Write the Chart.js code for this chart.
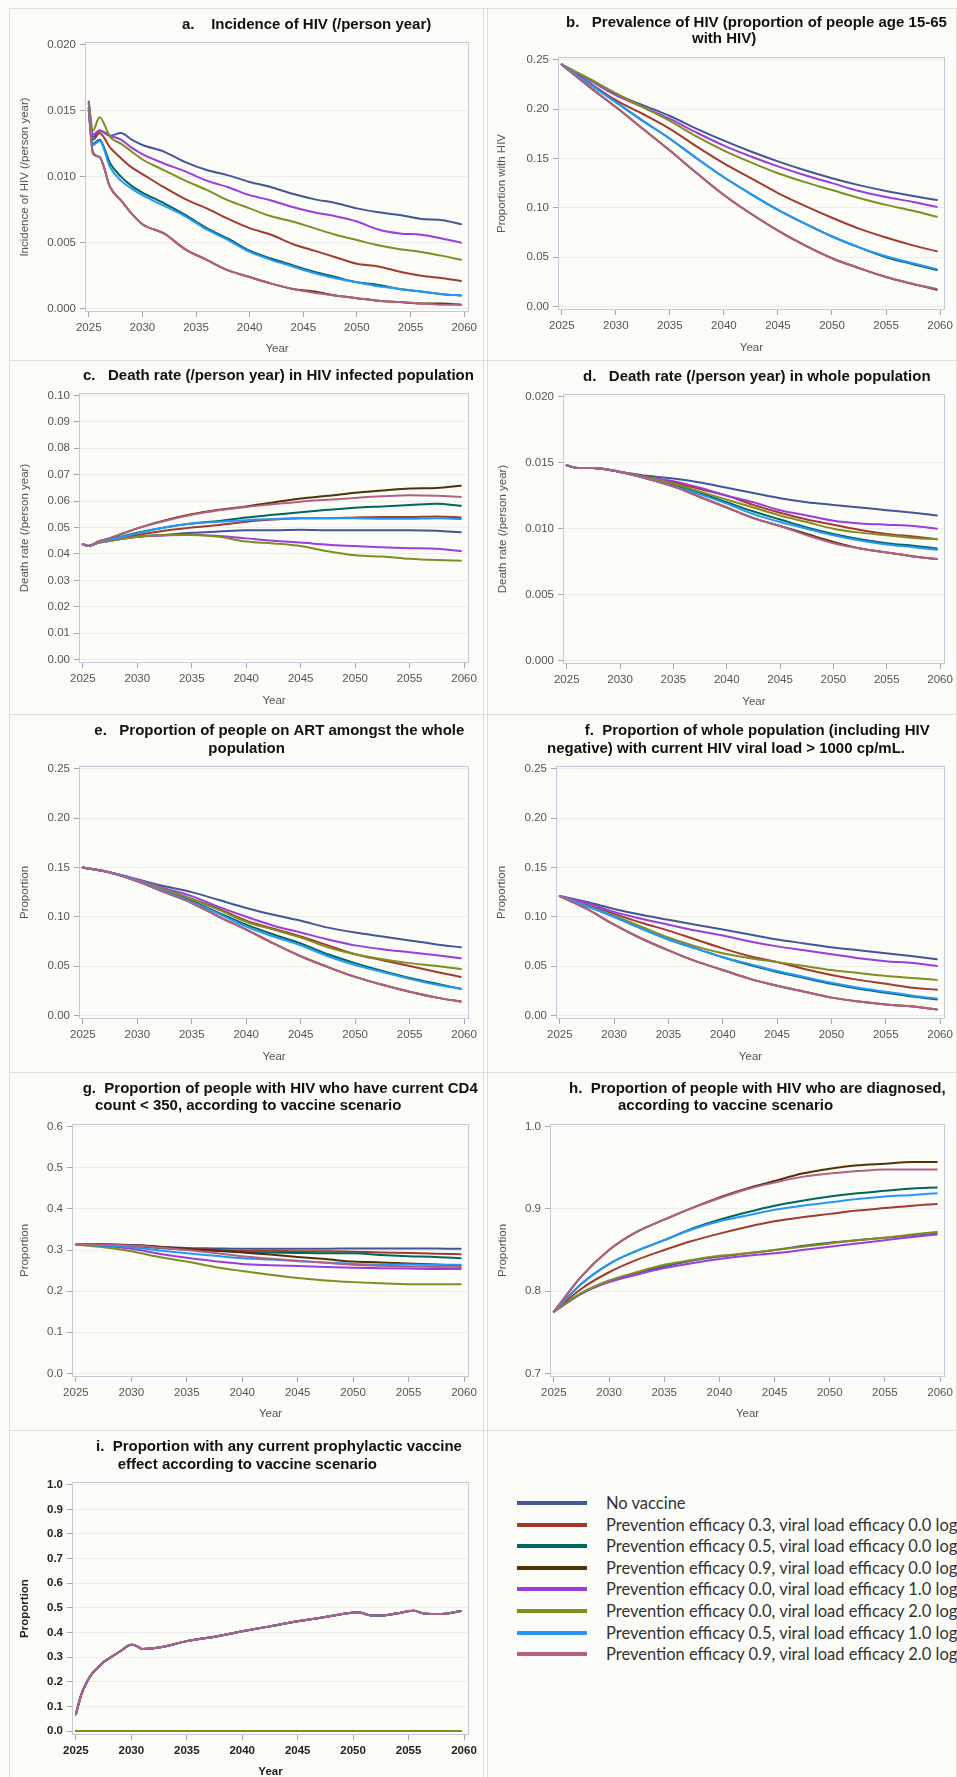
<!DOCTYPE html>
<html><head><meta charset="utf-8">
<script src="https://cdn.jsdelivr.net/npm/chart.js@4.4.1/dist/chart.umd.min.js"></script>
<style>
html,body{margin:0;padding:0;}
body{width:957px;height:1777px;overflow:hidden;position:relative;background:#fbfbf8;}
canvas{position:absolute;}
.rule{position:absolute;background:#dedede;}
.lg-row{position:absolute;left:517px;height:22px;white-space:nowrap;}
.lg-sw{position:absolute;left:0;top:9px;width:70px;height:4px;}
.lg-tx{position:absolute;left:89px;top:0;line-height:22px;font-family:Lato,"Open Sans",sans-serif;font-size:16.5px;color:#333;}
</style>
</head><body>
<script>
// ---------------- DATA ----------------
const SCENARIOS = [
  'No vaccine',
  'Prevention efficacy 0.3, viral load efficacy 0.0 log',
  'Prevention efficacy 0.5, viral load efficacy 0.0 log',
  'Prevention efficacy 0.9, viral load efficacy 0.0 log',
  'Prevention efficacy 0.0, viral load efficacy 1.0 log',
  'Prevention efficacy 0.0, viral load efficacy 2.0 log',
  'Prevention efficacy 0.5, viral load efficacy 1.0 log',
  'Prevention efficacy 0.9, viral load efficacy 2.0 log'
];
const X_TICKS = [2025, 2030, 2035, 2040, 2045, 2050, 2055, 2060];

// a. Incidence of HIV
const YEARS_A = [2025, 2025.4, 2026, 2027, 2028, 2029, 2030, 2032, 2034, 2036, 2038, 2040, 2042, 2044, 2046, 2048, 2050, 2052, 2054, 2056, 2058, 2059.7];
const INCIDENCE = [
  [0.0156, 0.0130, 0.0135, 0.0131, 0.0133, 0.0128, 0.0124, 0.0119, 0.0111, 0.0105, 0.0101, 0.0096, 0.0092, 0.0087, 0.0083, 0.0080, 0.0076, 0.0073, 0.0071, 0.0068, 0.0067, 0.0064],
  [0.0152, 0.0128, 0.0133, 0.0122, 0.0114, 0.0107, 0.0102, 0.0092, 0.0083, 0.0076, 0.0068, 0.0061, 0.0056, 0.0049, 0.0044, 0.0039, 0.0034, 0.0032, 0.0028, 0.0025, 0.0023, 0.0021],
  [0.0152, 0.0125, 0.0128, 0.0110, 0.0100, 0.0093, 0.0088, 0.0080, 0.0071, 0.0061, 0.0053, 0.0044, 0.0038, 0.0033, 0.0028, 0.0024, 0.0020, 0.0018, 0.0015, 0.0013, 0.0011, 0.0010],
  [0.0150, 0.0118, 0.0115, 0.0092, 0.0082, 0.0072, 0.0064, 0.0057, 0.0045, 0.0037, 0.0029, 0.0024, 0.0019, 0.0015, 0.0013, 0.0010, 0.0008, 0.0006, 0.0005, 0.0004, 0.0004, 0.0003],
  [0.0157, 0.0132, 0.0135, 0.0131, 0.0128, 0.0122, 0.0117, 0.0110, 0.0104, 0.0097, 0.0092, 0.0086, 0.0082, 0.0077, 0.0073, 0.0070, 0.0066, 0.0060, 0.0057, 0.0056, 0.0053, 0.0050],
  [0.0155, 0.0135, 0.0145, 0.0130, 0.0125, 0.0119, 0.0113, 0.0105, 0.0097, 0.0090, 0.0082, 0.0076, 0.0070, 0.0066, 0.0061, 0.0056, 0.0052, 0.0048, 0.0045, 0.0043, 0.0040, 0.0037],
  [0.0151, 0.0124, 0.0127, 0.0107, 0.0097, 0.0091, 0.0086, 0.0078, 0.0070, 0.0060, 0.0052, 0.0043, 0.0037, 0.0032, 0.0027, 0.0023, 0.0020, 0.0017, 0.0015, 0.0013, 0.0011, 0.0010],
  [0.0150, 0.0117, 0.0115, 0.0092, 0.0082, 0.0072, 0.0064, 0.0057, 0.0045, 0.0037, 0.0029, 0.0024, 0.0019, 0.0015, 0.0012, 0.0010, 0.0008, 0.0006, 0.0005, 0.0004, 0.0003, 0.0003]
];

// smooth panels share this year grid
const YEARS_S = [2025, 2027.5, 2030, 2032.5, 2035, 2037.5, 2040, 2042.5, 2045, 2047.5, 2050, 2052.5, 2055, 2057.5, 2059.7];

// b. Prevalence of HIV
const PREVALENCE = [
  [0.245, 0.230, 0.215, 0.204, 0.193, 0.180, 0.168, 0.157, 0.147, 0.138, 0.130, 0.123, 0.117, 0.112, 0.108],
  [0.245, 0.227, 0.209, 0.195, 0.180, 0.162, 0.145, 0.130, 0.115, 0.102, 0.090, 0.079, 0.070, 0.062, 0.056],
  [0.245, 0.226, 0.207, 0.188, 0.170, 0.150, 0.131, 0.114, 0.098, 0.084, 0.071, 0.060, 0.050, 0.043, 0.037],
  [0.245, 0.223, 0.202, 0.180, 0.158, 0.135, 0.113, 0.094, 0.077, 0.062, 0.049, 0.039, 0.030, 0.023, 0.017],
  [0.245, 0.230, 0.214, 0.202, 0.190, 0.176, 0.163, 0.152, 0.142, 0.133, 0.125, 0.117, 0.111, 0.106, 0.101],
  [0.245, 0.231, 0.216, 0.202, 0.188, 0.172, 0.158, 0.146, 0.135, 0.126, 0.118, 0.110, 0.103, 0.097, 0.091],
  [0.245, 0.226, 0.207, 0.188, 0.170, 0.150, 0.131, 0.114, 0.098, 0.084, 0.071, 0.060, 0.051, 0.044, 0.038],
  [0.245, 0.223, 0.202, 0.180, 0.158, 0.135, 0.113, 0.094, 0.077, 0.062, 0.049, 0.039, 0.030, 0.023, 0.018]
];

// c. Death rate in HIV infected population
const YEARS_C = [2025, 2025.5, 2026.5, 2027.5, 2030, 2032.5, 2035, 2037.5, 2040, 2042.5, 2045, 2047.5, 2050, 2052.5, 2055, 2057.5, 2059.7];
const DEATH_HIV = [
  [0.0437, 0.0430, 0.0443, 0.0450, 0.0465, 0.0472, 0.0480, 0.0485, 0.0490, 0.0490, 0.0492, 0.0490, 0.0490, 0.0490, 0.0490, 0.0488, 0.0482],
  [0.0437, 0.0430, 0.0445, 0.0452, 0.0472, 0.0488, 0.0500, 0.0510, 0.0522, 0.0530, 0.0535, 0.0535, 0.0538, 0.0540, 0.0540, 0.0542, 0.0538],
  [0.0437, 0.0430, 0.0446, 0.0455, 0.0480, 0.0500, 0.0515, 0.0525, 0.0538, 0.0548, 0.0558, 0.0567, 0.0575, 0.0580, 0.0585, 0.0590, 0.0582],
  [0.0437, 0.0430, 0.0448, 0.0460, 0.0497, 0.0527, 0.0550, 0.0567, 0.0580, 0.0595, 0.0610, 0.0620, 0.0632, 0.0640, 0.0648, 0.0650, 0.0658],
  [0.0437, 0.0430, 0.0443, 0.0450, 0.0465, 0.0470, 0.0473, 0.0468, 0.0459, 0.0450, 0.0443, 0.0435, 0.0430, 0.0425, 0.0422, 0.0420, 0.0411],
  [0.0437, 0.0430, 0.0443, 0.0450, 0.0465, 0.0472, 0.0472, 0.0465, 0.0447, 0.0440, 0.0430, 0.0410, 0.0395, 0.0390, 0.0382, 0.0377, 0.0374],
  [0.0437, 0.0430, 0.0445, 0.0455, 0.0478, 0.0500, 0.0515, 0.0522, 0.0528, 0.0532, 0.0535, 0.0535, 0.0535, 0.0533, 0.0533, 0.0535, 0.0532],
  [0.0437, 0.0430, 0.0448, 0.0460, 0.0497, 0.0525, 0.0548, 0.0565, 0.0578, 0.0588, 0.0598, 0.0605, 0.0612, 0.0618, 0.0622, 0.0620, 0.0616]
];

// d. Death rate in whole population
const YEARS_D = [2025, 2026, 2027.5, 2030, 2032.5, 2035, 2037.5, 2040, 2042.5, 2045, 2047.5, 2050, 2052.5, 2055, 2057.5, 2059.7];
const DEATH_ALL = [
  [0.0148, 0.0146, 0.0146, 0.0143, 0.0140, 0.0138, 0.0135, 0.0131, 0.0127, 0.0123, 0.0120, 0.0118, 0.0116, 0.0114, 0.0112, 0.0110],
  [0.0148, 0.0146, 0.0146, 0.0143, 0.0139, 0.0135, 0.0130, 0.0125, 0.0118, 0.0112, 0.0107, 0.0103, 0.0099, 0.0096, 0.0094, 0.0092],
  [0.0148, 0.0146, 0.0146, 0.0143, 0.0139, 0.0133, 0.0127, 0.0120, 0.0113, 0.0107, 0.0101, 0.0096, 0.0092, 0.0089, 0.0087, 0.0085],
  [0.0148, 0.0146, 0.0146, 0.0143, 0.0138, 0.0132, 0.0124, 0.0116, 0.0108, 0.0102, 0.0096, 0.0090, 0.0085, 0.0082, 0.0079, 0.0077],
  [0.0148, 0.0146, 0.0146, 0.0143, 0.0139, 0.0136, 0.0131, 0.0125, 0.0120, 0.0114, 0.0110, 0.0106, 0.0104, 0.0103, 0.0102, 0.0100],
  [0.0148, 0.0146, 0.0146, 0.0143, 0.0139, 0.0134, 0.0128, 0.0122, 0.0116, 0.0110, 0.0105, 0.0100, 0.0097, 0.0095, 0.0093, 0.0092],
  [0.0148, 0.0146, 0.0146, 0.0143, 0.0138, 0.0132, 0.0126, 0.0119, 0.0111, 0.0105, 0.0100, 0.0095, 0.0091, 0.0088, 0.0086, 0.0084],
  [0.0148, 0.0146, 0.0146, 0.0143, 0.0138, 0.0132, 0.0124, 0.0116, 0.0108, 0.0102, 0.0095, 0.0089, 0.0085, 0.0082, 0.0079, 0.0077]
];

// e. Proportion on ART amongst whole population
const ON_ART = [
  [0.150, 0.145, 0.138, 0.131, 0.125, 0.117, 0.109, 0.102, 0.096, 0.089, 0.084, 0.080, 0.076, 0.072, 0.069],
  [0.150, 0.145, 0.137, 0.127, 0.118, 0.108, 0.096, 0.088, 0.080, 0.071, 0.062, 0.056, 0.050, 0.044, 0.039],
  [0.150, 0.145, 0.137, 0.126, 0.116, 0.104, 0.092, 0.082, 0.073, 0.062, 0.053, 0.045, 0.038, 0.032, 0.027],
  [0.150, 0.145, 0.136, 0.125, 0.114, 0.100, 0.087, 0.073, 0.060, 0.049, 0.039, 0.031, 0.024, 0.018, 0.014],
  [0.150, 0.145, 0.138, 0.129, 0.121, 0.110, 0.100, 0.091, 0.084, 0.077, 0.071, 0.067, 0.064, 0.061, 0.058],
  [0.150, 0.145, 0.137, 0.128, 0.118, 0.107, 0.095, 0.087, 0.079, 0.069, 0.062, 0.057, 0.053, 0.050, 0.047],
  [0.150, 0.145, 0.137, 0.126, 0.115, 0.103, 0.090, 0.080, 0.071, 0.060, 0.051, 0.044, 0.037, 0.031, 0.027],
  [0.150, 0.145, 0.136, 0.125, 0.114, 0.100, 0.087, 0.073, 0.060, 0.049, 0.039, 0.031, 0.024, 0.018, 0.014]
];

// f. Proportion with viral load > 1000
const VL_1000 = [
  [0.121, 0.115, 0.108, 0.102, 0.097, 0.092, 0.087, 0.082, 0.077, 0.073, 0.069, 0.066, 0.063, 0.060, 0.057],
  [0.121, 0.112, 0.103, 0.094, 0.086, 0.077, 0.068, 0.060, 0.054, 0.047, 0.041, 0.036, 0.032, 0.028, 0.026],
  [0.121, 0.111, 0.100, 0.088, 0.077, 0.068, 0.059, 0.051, 0.044, 0.038, 0.032, 0.027, 0.023, 0.019, 0.016],
  [0.121, 0.108, 0.092, 0.078, 0.066, 0.055, 0.046, 0.037, 0.030, 0.024, 0.018, 0.014, 0.011, 0.009, 0.006],
  [0.121, 0.114, 0.105, 0.098, 0.092, 0.086, 0.081, 0.075, 0.070, 0.066, 0.062, 0.058, 0.055, 0.053, 0.050],
  [0.121, 0.111, 0.101, 0.090, 0.079, 0.070, 0.063, 0.058, 0.054, 0.050, 0.046, 0.043, 0.040, 0.038, 0.036],
  [0.121, 0.111, 0.100, 0.088, 0.077, 0.068, 0.059, 0.052, 0.045, 0.039, 0.033, 0.028, 0.024, 0.020, 0.017],
  [0.121, 0.108, 0.092, 0.078, 0.066, 0.055, 0.046, 0.037, 0.030, 0.024, 0.018, 0.014, 0.011, 0.009, 0.006]
];

// g. Proportion of PLHIV with CD4 < 350
const CD4_350 = [
  [0.313, 0.313, 0.312, 0.308, 0.305, 0.304, 0.303, 0.303, 0.303, 0.303, 0.304, 0.304, 0.304, 0.304, 0.303],
  [0.313, 0.313, 0.311, 0.307, 0.303, 0.301, 0.298, 0.298, 0.297, 0.297, 0.296, 0.294, 0.293, 0.291, 0.290],
  [0.313, 0.313, 0.310, 0.305, 0.301, 0.298, 0.295, 0.294, 0.293, 0.292, 0.292, 0.288, 0.285, 0.283, 0.280],
  [0.313, 0.314, 0.312, 0.308, 0.303, 0.299, 0.294, 0.289, 0.283, 0.278, 0.272, 0.270, 0.267, 0.265, 0.262],
  [0.313, 0.310, 0.303, 0.291, 0.281, 0.273, 0.266, 0.263, 0.261, 0.259, 0.257, 0.256, 0.255, 0.254, 0.254],
  [0.313, 0.307, 0.297, 0.283, 0.272, 0.259, 0.249, 0.240, 0.232, 0.226, 0.222, 0.219, 0.217, 0.217, 0.217],
  [0.313, 0.311, 0.307, 0.299, 0.292, 0.286, 0.280, 0.277, 0.273, 0.270, 0.266, 0.265, 0.265, 0.264, 0.264],
  [0.313, 0.313, 0.311, 0.306, 0.300, 0.293, 0.285, 0.279, 0.274, 0.269, 0.264, 0.262, 0.260, 0.259, 0.258]
];

// h. Proportion of PLHIV diagnosed
const DIAGNOSED = [
  [0.775, 0.797, 0.812, 0.822, 0.830, 0.837, 0.842, 0.846, 0.850, 0.855, 0.859, 0.862, 0.865, 0.868, 0.871],
  [0.775, 0.803, 0.823, 0.838, 0.850, 0.861, 0.870, 0.878, 0.885, 0.890, 0.894, 0.898, 0.901, 0.904, 0.906],
  [0.775, 0.809, 0.833, 0.849, 0.862, 0.876, 0.887, 0.896, 0.904, 0.910, 0.915, 0.919, 0.922, 0.925, 0.926],
  [0.775, 0.818, 0.850, 0.872, 0.887, 0.901, 0.914, 0.925, 0.934, 0.943, 0.949, 0.953, 0.955, 0.957, 0.957],
  [0.775, 0.797, 0.811, 0.820, 0.828, 0.834, 0.839, 0.843, 0.846, 0.850, 0.854, 0.858, 0.862, 0.866, 0.869],
  [0.775, 0.798, 0.813, 0.823, 0.832, 0.838, 0.843, 0.846, 0.850, 0.854, 0.858, 0.862, 0.865, 0.869, 0.872],
  [0.775, 0.809, 0.833, 0.849, 0.862, 0.875, 0.885, 0.892, 0.899, 0.904, 0.908, 0.912, 0.915, 0.917, 0.919],
  [0.775, 0.818, 0.850, 0.872, 0.887, 0.901, 0.913, 0.924, 0.932, 0.939, 0.943, 0.946, 0.948, 0.948, 0.948]
];

// i. Proportion with any current prophylactic vaccine effect
const YEARS_I = [2025, 2025.5, 2026, 2026.5, 2027, 2027.5, 2028, 2029, 2030, 2030.5, 2031, 2032, 2033, 2035, 2037.5, 2040, 2042.5, 2045, 2047.5, 2050, 2050.5, 2051.5, 2052.5, 2054, 2055.5, 2056.5, 2058, 2059.7];
const VAX_EFFECT = [0.068, 0.150, 0.200, 0.235, 0.258, 0.280, 0.295, 0.324, 0.350, 0.345, 0.333, 0.336, 0.343, 0.365, 0.383, 0.405, 0.425, 0.446, 0.463, 0.481, 0.482, 0.470, 0.469, 0.478, 0.488, 0.476, 0.475, 0.487];
const NO_EFFECT  = [0, 0, 0, 0, 0, 0, 0, 0, 0, 0, 0, 0, 0, 0, 0, 0, 0, 0, 0, 0, 0, 0, 0, 0, 0, 0, 0, 0];
const PROPHYLACTIC = [NO_EFFECT, VAX_EFFECT, VAX_EFFECT, VAX_EFFECT, NO_EFFECT, NO_EFFECT, VAX_EFFECT, VAX_EFFECT];

// ---------------- STYLE ----------------
const COLORS = ['#445694', '#A23A2E', '#01665E', '#543005', '#9D3CDB', '#7F8E1F', '#2597FA', '#B26084'];
const FONT = '"Liberation Sans", Arial, sans-serif';
const XMIN = 2024.65, XMAX = 2060.45;

const PANELS = [
  {cell:[9,8,485,360], frame:[85,42,469,312], x:YEARS_A, s:INCIDENCE, yl:'Incidence of HIV (/person year)', yt:[0,0.005,0.01,0.015,0.02], dec:3, ymin:-0.00025, ymax:0.0202, ytp:9.1, xtp:3.8,
   title:[['a.    Incidence of HIV (/person year)',182,25]]},
  {cell:[487,8,957,360], frame:[558,57,947,310], x:YEARS_S, s:PREVALENCE, yl:'Proportion with HIV', yt:[0,0.05,0.1,0.15,0.2,0.25], dec:2, ymin:-0.0034, ymax:0.2527, ytp:8.1, xtp:5.4,
   title:[['b.   Prevalence of HIV (proportion of people age 15-65',566,22.7],['with HIV)',692,39.3]]},
  {cell:[9,360,485,714], frame:[79,393,469,663], x:YEARS_C, s:DEATH_HIV, yl:'Death rate (/person year)', yt:[0,0.01,0.02,0.03,0.04,0.05,0.06,0.07,0.08,0.09,0.1], dec:2, ymin:-0.00125, ymax:0.1009, ytp:9.1, xtp:6.4,
   title:[['c.   Death rate (/person year) in HIV infected population',83,375.7]]},
  {cell:[487,360,957,714], frame:[563,394,947,664], x:YEARS_D, s:DEATH_ALL, yl:'Death rate (/person year)', yt:[0,0.005,0.01,0.015,0.02], dec:3, ymin:-0.00025, ymax:0.0202, ytp:9.1, xtp:5.4,
   title:[['d.   Death rate (/person year) in whole population',583,376.7]]},
  {cell:[9,714,485,1072], frame:[79,766,469,1019], x:YEARS_S, s:ON_ART, yl:'Proportion', yt:[0,0.05,0.1,0.15,0.2,0.25], dec:2, ymin:-0.0037, ymax:0.253, ytp:9.1, xtp:8.4,
   title:[['e.   Proportion of people on ART amongst the whole',94.3,731],['population',208.3,748.7]]},
  {cell:[487,714,957,1072], frame:[556,766,947,1019], x:YEARS_S, s:VL_1000, yl:'Proportion', yt:[0,0.05,0.1,0.15,0.2,0.25], dec:2, ymin:-0.0037, ymax:0.253, ytp:8.1, xtp:8.4,
   title:[['f.  Proportion of whole population (including HIV',584.7,731],['negative) with current HIV viral load > 1000 cp/mL.',547,748.7]]},
  {cell:[9,1072,485,1430], frame:[72,1124,469,1377], x:YEARS_S, s:CD4_350, yl:'Proportion', yt:[0,0.1,0.2,0.3,0.4,0.5,0.6], dec:1, ymin:-0.0087, ymax:0.6065, ytp:9.1, xtp:9.1,
   title:[['g.  Proportion of people with HIV who have current CD4',82.7,1089.3],['count < 350, according to vaccine scenario',95,1106]]},
  {cell:[487,1072,957,1430], frame:[550,1124,947,1377], x:YEARS_S, s:DIAGNOSED, yl:'Proportion', yt:[0.7,0.8,0.9,1.0], dec:1, ymin:0.6956, ymax:1.0033, ytp:9.1, xtp:8.8,
   title:[['h.  Proportion of people with HIV who are diagnosed,',569,1089.3],['according to vaccine scenario',618,1106]]},
  {cell:[9,1430,485,1790], frame:[72,1482,469,1735], x:YEARS_I, s:PROPHYLACTIC, yl:'Proportion', yt:[0,0.1,0.2,0.3,0.4,0.5,0.6,0.7,0.8,0.9,1.0], dec:1, ymin:-0.016, ymax:1.011, ytp:9.1, xtp:11.1, bold:true,
   title:[['i.  Proportion with any current prophylactic vaccine',96,1447],['effect according to vaccine scenario',117.7,1464.7]]}
];

// ---------------- RULES (panel dividers) ----------------
function rule(l,t,w,h){const d=document.createElement('div');d.className='rule';d.style.left=l+'px';d.style.top=t+'px';d.style.width=w+'px';d.style.height=h+'px';document.body.appendChild(d);}
rule(9,8,948,1); rule(9,360,948,1); rule(9,714,948,1); rule(9,1072,948,1); rule(9,1430,948,1);
rule(9,8,1,1769); rule(483,8,1,1769); rule(487,8,1,1769); rule(956,8,1,1769);

// ---------------- PLUGINS ----------------
const framePlugin = {
  id:'frame',
  afterDatasetsDraw(chart){
    const {ctx, chartArea:a} = chart;
    ctx.save(); ctx.strokeStyle = '#c4c9d6'; ctx.lineWidth = 1;
    ctx.strokeRect(Math.round(a.left)+0.5, Math.round(a.top)+0.5, Math.round(a.right-a.left)-1, Math.round(a.bottom-a.top)-1);
    ctx.restore();
  }
};
const titlePlugin = {
  id:'panelTitle',
  afterDraw(chart, args, opts){
    const ctx = chart.ctx;
    ctx.save();
    ctx.font = 'bold 15px ' + FONT; ctx.fillStyle = '#111'; ctx.textAlign = 'left'; ctx.textBaseline = 'middle';
    (opts.lines||[]).forEach(l => ctx.fillText(l[0], l[1]-opts.ox, l[2]-opts.oy));
    ctx.restore();
  }
};

// ---------------- CHARTS ----------------
PANELS.forEach(p => {
  const [cl,ct,cr,cb] = p.cell, [fl,ft,fr,fb] = p.frame;
  const cv = document.createElement('canvas');
  cv.width = cr-cl; cv.height = cb-ct;
  cv.style.left = cl+'px'; cv.style.top = ct+'px';
  cv.style.width = (cr-cl)+'px'; cv.style.height = (cb-ct)+'px';
  document.body.appendChild(cv);
  const tickFont = {family:FONT, size:11.5, weight: p.bold ? 'bold' : 'normal'};
  const tickColor = p.bold ? '#222' : '#555';
  new Chart(cv, {
    type:'line',
    data:{ datasets: SCENARIOS.map((name,i)=>({
      label:name,
      data: p.x.map((x,k)=>({x:x, y:p.s[i][k]})),
      borderColor: COLORS[i], backgroundColor: COLORS[i],
      borderWidth: 2, pointRadius: 0, fill:false,
      cubicInterpolationMode:'monotone', borderJoinStyle:'round', borderCapStyle:'round',
      order: SCENARIOS.length-1-i
    }))},
    options:{
      responsive:false, animation:false, devicePixelRatio:1,
      layout:{padding:{left:0, top:ft-ct, right:cr-fr, bottom:0}},
      plugins:{ legend:{display:false}, tooltip:{enabled:false}, title:{display:false},
        panelTitle:{lines:p.title, ox:cl, oy:ct} },
      scales:{
        x:{ type:'linear', min:XMIN, max:XMAX,
          afterBuildTicks: s => { s.ticks = X_TICKS.map(v=>({value:v})); },
          afterFit: s => { s.height = cb-fb; },
          ticks:{autoSkip:false, maxRotation:0, minRotation:0, padding:4, color:tickColor, font:tickFont, callback: v => String(v)},
          grid:{display:true, drawOnChartArea:false, drawTicks:true, tickLength:5, tickColor:'#a3a8b3'},
          border:{display:false},
          title:{display:true, text:'Year', color:tickColor, font:{family:FONT, size:11.5, weight: p.bold?'bold':'normal'}, padding:{top:0, bottom:p.xtp}}
        },
        y:{ type:'linear', min:p.ymin, max:p.ymax,
          afterBuildTicks: s => { s.ticks = p.yt.map(v=>({value:v})); },
          afterFit: s => { s.width = fl-cl; },
          ticks:{padding:4, color:tickColor, font:tickFont, callback: v => Number(v).toFixed(p.dec)},
          grid:{display:true, color:'#ececec', lineWidth:1, drawTicks:true, tickLength:5, tickColor:'#a3a8b3'},
          border:{display:false},
          title:{display:true, text:p.yl, color:tickColor, font:{family:FONT, size:11.5, weight: p.bold?'bold':'normal'}, padding:{top:p.ytp, bottom:0}}
        }
      }
    },
    plugins:[framePlugin, titlePlugin]
  });
});

// ---------------- LEGEND ----------------
const LEG_Y = [1503, 1524.6, 1546.2, 1567.8, 1589.4, 1611, 1632.6, 1654.2];
SCENARIOS.forEach((name,i) => {
  const row = document.createElement('div'); row.className='lg-row'; row.style.top = (LEG_Y[i]-11)+'px';
  const sw = document.createElement('div'); sw.className='lg-sw'; sw.style.background = COLORS[i];
  const tx = document.createElement('div'); tx.className='lg-tx'; tx.textContent = name;
  row.appendChild(sw); row.appendChild(tx); document.body.appendChild(row);
});
</script>
</body></html>
